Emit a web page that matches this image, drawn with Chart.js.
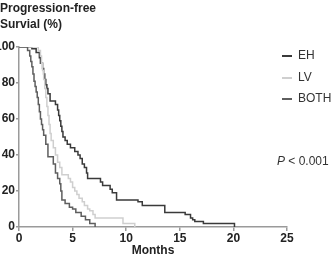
<!DOCTYPE html>
<html>
<head>
<meta charset="utf-8">
<script src="https://cdn.jsdelivr.net/npm/chart.js@4/dist/chart.umd.min.js"></script>
<style>
  body { margin: 0; background: #fff; }
  #wrap { position: relative; width: 333px; height: 258px; overflow: hidden; font-family: "Liberation Sans", Arial, sans-serif; }
  #c { position: absolute; left: 0; top: 0; }
  .ytitle { position: absolute; left: 0; top: 0px; font-weight: bold; font-size: 12px; line-height: 16px; color: #222; }
  .leg { position: absolute; left: 282px; font-size: 12px; color: #333; line-height: 14px; }
  .leg i { display: inline-block; width: 10px; height: 1.5px; vertical-align: middle; margin-right: 6px; }
  .pval { position: absolute; left: 277px; top: 154px; font-size: 12px; color: #333; }
</style>
</head>
<body>
<div id="wrap">
  <canvas id="c" width="333" height="258"></canvas>
  <div class="ytitle">Progression-free<br>Survial (%)</div>
  <div class="leg" style="top:48px"><i style="background:#3a3a3a"></i>EH</div>
  <div class="leg" style="top:70px"><i style="background:#cfcfcf"></i>LV</div>
  <div class="leg" style="top:91px"><i style="background:#5e5e5e"></i>BOTH</div>
  <div class="pval"><i>P</i> &lt; 0.001</div>
</div>
<script>
// Kaplan-Meier steps: time (months) and survival (%) after each drop.
const ehTime = [0, 1.2, 1.6, 1.9, 2.0, 2.2, 2.3, 2.4, 2.5, 2.6, 2.7, 2.9, 3.4, 3.6, 3.7, 3.8, 3.9, 4.0, 4.1, 4.3, 4.5, 4.8, 5.2, 5.5, 5.7, 5.9, 6.1, 6.3, 6.4, 7.6, 7.8, 8.5, 8.7, 9.1, 11.1, 11.5, 13.6, 15.5, 16.0, 16.2, 16.4, 17.2, 20.1];
const ehSurv = [100, 99, 97, 94, 91, 88, 85, 82, 79, 77, 74, 70, 68, 65, 62, 59, 56, 53, 50, 48, 46, 44, 42, 40, 38, 35, 33, 30, 27, 25, 23, 21, 19, 15, 14, 12, 8, 7, 5, 4, 3, 2, 0];

const lvTime = [0, 1.8, 2.0, 2.1, 2.2, 2.3, 2.4, 2.5, 2.6, 2.7, 2.8, 2.9, 3.0, 3.2, 3.4, 3.6, 3.8, 4.0, 4.6, 4.8, 5.0, 5.2, 5.4, 5.6, 5.9, 6.1, 6.4, 6.6, 6.9, 7.1, 9.7, 10.8];
const lvSurv = [100, 98, 95, 91, 87, 82, 77, 72, 67, 62, 57, 52, 48, 44, 40, 36, 33, 29, 27, 25, 22, 20, 18, 16, 14, 12, 10, 9, 7, 5, 2, 0];

const bothTime = [0, 0.8, 1.0, 1.1, 1.2, 1.3, 1.4, 1.5, 1.6, 1.7, 1.8, 1.9, 2.0, 2.1, 2.2, 2.3, 2.5, 2.7, 3.2, 3.4, 3.6, 3.8, 3.9, 4.0, 4.3, 4.7, 5.0, 5.3, 5.8, 6.2, 6.6, 7.1];
const bothSurv = [100, 98, 95, 92, 89, 85, 81, 78, 75, 72, 68, 64, 60, 57, 54, 51, 46, 39, 35, 30, 27, 24, 20, 15, 13, 11, 10, 8, 6, 4, 2, 0];

const seriesNames = ["EH", "LV", "BOTH"];
const seriesColors = ["#3a3a3a", "#cfcfcf", "#5e5e5e"];

const FONT = "'Liberation Sans', Arial, sans-serif";
const AXIS = "#9a9a9a";

function pts(t, s) {
  return t.map((x, i) => ({ x, y: s[i] }));
}

const series = [pts(ehTime, ehSurv), pts(lvTime, lvSurv), pts(bothTime, bothSurv)];

new Chart(document.getElementById("c"), {
  type: "line",
  data: {
    datasets: series.map((d, i) => ({
      label: seriesNames[i],
      data: d,
      borderColor: seriesColors[i],
      borderWidth: 1.5,
      pointRadius: 0,
      // horizontal at the old level, then drop at the event time
      stepped: "before",
      fill: false,
    })).reverse(),
  },
  options: {
    responsive: false,
    devicePixelRatio: 1,
    animation: false,
    layout: { padding: { left: 0, top: 47, right: 46, bottom: 0 } },
    plugins: { legend: { display: false }, tooltip: { enabled: false } },
    scales: {
      x: {
        type: "linear",
        min: 0,
        max: 25,
        ticks: { stepSize: 5, font: { family: FONT, size: 12, weight: "bold" }, color: "#222", padding: 0, maxRotation: 0 },
        grid: { drawOnChartArea: false, drawTicks: true, tickLength: 4, color: AXIS, lineWidth: 1.5 },
        border: { color: AXIS, width: 1.5 },
        title: { display: true, text: "Months", font: { family: FONT, size: 12, weight: "bold" }, color: "#222", padding: { top: 2, bottom: 0 } },
        afterFit: (s) => { s.height = 31; },
      },
      y: {
        min: 0,
        max: 100,
        ticks: { stepSize: 20, font: { family: FONT, size: 12, weight: "bold" }, color: "#222", padding: 1 },
        grid: { drawOnChartArea: false, drawTicks: true, tickLength: 3, color: AXIS, lineWidth: 1.5 },
        border: { color: AXIS, width: 1.5 },
        afterFit: (s) => { s.width = 19; },
      },
    },
  },
});
</script>
</body>
</html>
